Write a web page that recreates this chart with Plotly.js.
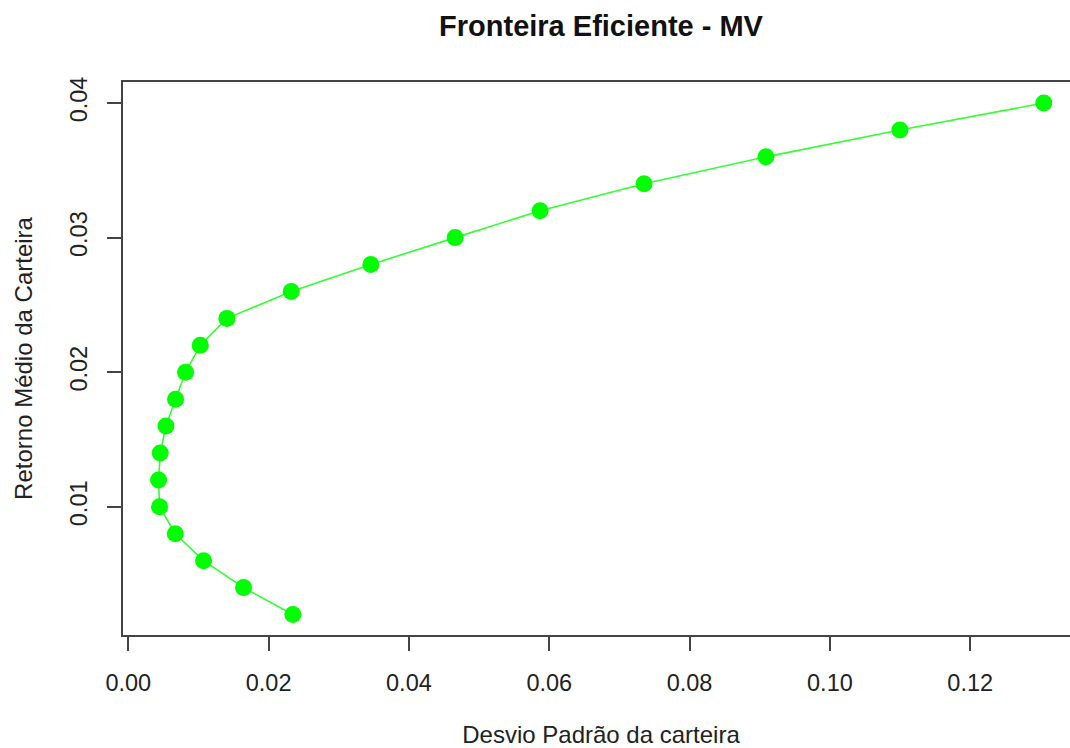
<!DOCTYPE html>
<html>
<head>
<meta charset="utf-8">
<script src="https://cdn.plot.ly/plotly-3.0.1.min.js"></script>
<style>
html, body { margin: 0; padding: 0; overflow: hidden; background: #ffffff; }
#chart { width: 1090px; height: 748px; }
</style>
</head>
<body>
<div id="chart"></div>
<script>
// Portfolio standard deviation (x) and mean return (y) along the efficient frontier
const desvioPadrao = [0.02346, 0.01643, 0.01073, 0.00670, 0.00446, 0.00432, 0.00456, 0.00537, 0.00674, 0.00816,
                      0.01026, 0.01406, 0.02322, 0.03457, 0.04658, 0.05869, 0.07350, 0.09088, 0.10997, 0.13048];
const retornoMedio = [0.002, 0.004, 0.006, 0.008, 0.010, 0.012, 0.014, 0.016, 0.018, 0.020,
                      0.022, 0.024, 0.026, 0.028, 0.030, 0.032, 0.034, 0.036, 0.038, 0.040];
const xTickVals = [0.00, 0.02, 0.04, 0.06, 0.08, 0.10, 0.12];
const xTickText = ["0.00", "0.02", "0.04", "0.06", "0.08", "0.10", "0.12"];
const yTickVals = [0.01, 0.02, 0.03, 0.04];
const yTickText = ["0.01", "0.02", "0.03", "0.04"];

const fontFam = '"Liberation Sans", Arial, Helvetica, sans-serif';
const axisCol = '#444444';

const trace = {
  x: desvioPadrao,
  y: retornoMedio,
  type: 'scatter',
  mode: 'lines+markers',
  line: { color: '#33ff33', width: 1.6 },
  marker: { color: '#00ff00', size: 17, line: { width: 0 } },
  hoverinfo: 'x+y',
  showlegend: false
};

const layout = {
  width: 1090,
  height: 748,
  paper_bgcolor: '#ffffff',
  plot_bgcolor: '#ffffff',
  margin: { l: 123, r: 11, t: 82, b: 113, pad: 0 },
  font: { family: fontFam, color: '#222222', size: 23.5 },
  title: {
    text: '<b>Fronteira Eficiente - MV</b>',
    font: { family: fontFam, size: 29, color: '#111111' },
    x: 0.5, xref: 'paper', xanchor: 'center',
    y: 1 - 26 / 748, yref: 'container', yanchor: 'middle'
  },
  xaxis: {
    range: [-0.00075, 0.1355],
    tickvals: xTickVals,
    ticktext: xTickText,
    ticks: 'outside',
    ticklen: 14,
    tickwidth: 1.5,
    tickcolor: axisCol,
    ticklabelstandoff: 12,
    showline: true,
    linecolor: axisCol,
    linewidth: 1.5,
    mirror: true,
    showgrid: false,
    zeroline: false,
    tickfont: { family: fontFam, size: 23.5, color: '#222222' },
    title: {
      text: 'Desvio Padrão da carteira',
      font: { family: fontFam, size: 24, color: '#222222' },
      standoff: 31
    }
  },
  yaxis: {
    range: [0.00048, 0.04156],
    tickvals: yTickVals,
    ticktext: yTickText,
    tickangle: -90,
    ticks: 'outside',
    ticklen: 14,
    tickwidth: 1.5,
    tickcolor: axisCol,
    ticklabelstandoff: 11,
    showline: true,
    linecolor: axisCol,
    linewidth: 1.5,
    mirror: true,
    showgrid: false,
    zeroline: false,
    tickfont: { family: fontFam, size: 23.5, color: '#222222' },
    title: {
      text: 'Retorno Médio da Carteira',
      font: { family: fontFam, size: 24, color: '#222222' },
      standoff: 26
    }
  }
};

Plotly.newPlot('chart', [trace], layout, { displayModeBar: false, staticPlot: false });
</script>
</body>
</html>
